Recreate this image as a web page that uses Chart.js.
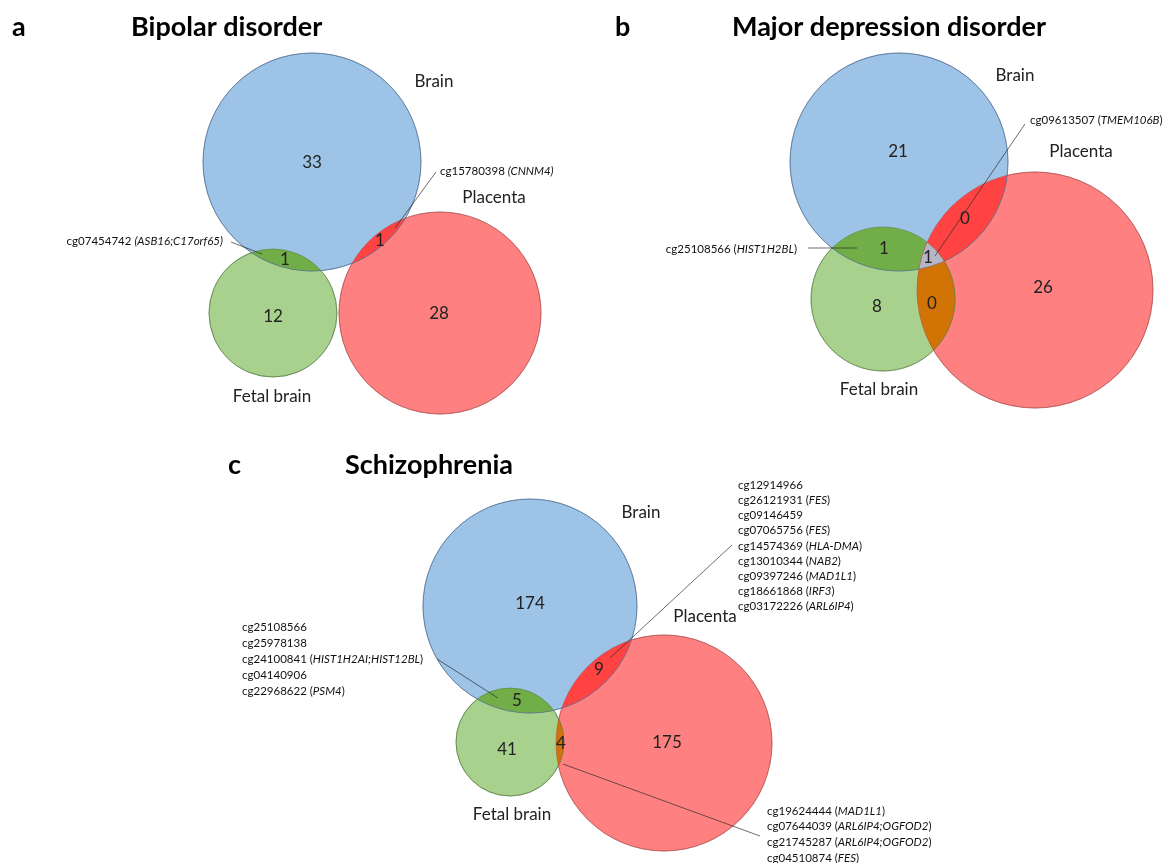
<!DOCTYPE html>
<html><head><meta charset="utf-8">
<script src="https://cdn.jsdelivr.net/npm/chart.js@4.4.1/dist/chart.umd.min.js"></script>
<style>html,body{margin:0;padding:0;background:#fff}#wrap{width:1166px;height:863px}</style>
</head><body><div id="wrap"><canvas id="c" width="1166" height="863"></canvas></div>
<script>
// ---------------- data ----------------
const panelLetters = ['a', 'b', 'c'];
const panelTitles = ['Bipolar disorder', 'Major depression disorder', 'Schizophrenia'];
const setNames = ['Brain', 'Fetal brain', 'Placenta'];
const regionNames = ['Brain only', 'Fetal brain only', 'Placenta only', 'Brain & Fetal brain', 'Brain & Placenta', 'Fetal brain & Placenta', 'All three'];
const bipolarCounts = [33, 12, 28, 1, 1, null, null];
const mddCounts = [21, 8, 26, 1, 0, 0, 1];
const schizophreniaCounts = [174, 41, 175, 5, 9, 4, null];
// shared CpGs (text between underscores is italic)
const bipolarBrainFetalCpGs = ['cg07454742 _(ASB16;C17orf65)_'];
const bipolarBrainPlacentaCpGs = ['cg15780398 _(CNNM4)_'];
const mddBrainFetalCpGs = ['cg25108566 (_HIST1H2BL_)'];
const mddAllThreeCpGs = ['cg09613507 (_TMEM106B_)'];
const sczBrainFetalCpGs = ['cg25108566', 'cg25978138', 'cg24100841 (_HIST1H2AI;HIST12BL_)', 'cg04140906', 'cg22968622 (_PSM4_)'];
const sczBrainPlacentaCpGs = ['cg12914966', 'cg26121931 (_FES_)', 'cg09146459', 'cg07065756 (_FES_)', 'cg14574369 (_HLA-DMA_)', 'cg13010344 (_NAB2_)', 'cg09397246 (_MAD1L1_)', 'cg18661868 (_IRF3_)', 'cg03172226 (_ARL6IP4_)'];
const sczFetalPlacentaCpGs = ['cg19624444 (_MAD1L1_)', 'cg07644039 (_ARL6IP4;OGFOD2_)', 'cg21745287 (_ARL6IP4;OGFOD2_)', 'cg04510874 (_FES_)'];

const panelCounts = [bipolarCounts, mddCounts, schizophreniaCounts];

// ---------------- layout (page pixel units) ----------------
const circleLayout = [
  [[312, 162, 109], [273, 313, 64], [440, 313, 101]],
  [[899, 162, 109], [883, 299, 72], [1035, 290, 118]],
  [[530, 606, 107], [510, 742, 54], [664, 743, 108]]
];
const countLayout = [
  [[312, 163], [273, 317], [439, 314], [285, 260], [380, 241], null, null],
  [[898, 152], [877, 307], [1043, 288], [884, 249], [965, 219], [932, 304], [928, 258]],
  [[530, 604], [507, 750], [667, 743], [517, 701], [599, 670], [561, 744], null]
];
const setLabelLayout = [
  [[434, 82], [272, 397], [494, 198]],
  [[1015, 76], [879, 390], [1081, 152]],
  [[641, 513], [512, 815], [705, 617]]
];
const letterLayout = [[12, 27], [615, 27], [228, 465]];
const titleLayout = [[131, 27], [732, 27], [345, 465]];
const annotations = [
  {lines: bipolarBrainFetalCpGs, x: 223, y: 241, align: 'right', lh: 16, from: [231, 242], to: [262, 254]},
  {lines: bipolarBrainPlacentaCpGs, x: 440, y: 171, align: 'left', lh: 16, from: [436, 172], to: [395, 228]},
  {lines: mddBrainFetalCpGs, x: 797, y: 249, align: 'right', lh: 16, from: [808, 248], to: [857, 248]},
  {lines: mddAllThreeCpGs, x: 1030, y: 120, align: 'left', lh: 16, from: [1025, 124], to: [935, 256]},
  {lines: sczBrainFetalCpGs, x: 242, y: 627, align: 'left', lh: 16, from: [437, 659], to: [498, 698]},
  {lines: sczBrainPlacentaCpGs, x: 738, y: 485, align: 'left', lh: 15.2, from: [732, 545], to: [610, 658]},
  {lines: sczFetalPlacentaCpGs, x: 767, y: 811, align: 'left', lh: 15.7, from: [563, 764], to: [760, 836]}
];

// ---------------- styles ----------------
const setFill = ['#9DC3E6', '#A9D18E', '#FF8080'];
const setStroke = ['rgba(70,100,140,0.5)', 'rgba(80,120,60,0.5)', 'rgba(170,70,70,0.5)'];
const pairDefs = [[0, 1, '#72AE48'], [0, 2, '#FF4343'], [1, 2, '#D27306']];
const tripleFill = '#B6B6C8';
const FONT = 'Lato, "Open Sans", sans-serif';

const datasets = setNames.map((name, s) => ({
  label: name,
  data: circleLayout.map(p => ({x: p[s][0], y: p[s][1], r: p[s][2]})),
  backgroundColor: setFill[s],
  borderColor: setStroke[s],
  borderWidth: 1,
  hoverRadius: 0,
  clip: false
}));

function richText(ctx, str, x, y, align, size) {
  const parts = str.split('_');
  const fonts = parts.map((t, i) => (i % 2 ? 'italic ' : '') + size + 'px ' + FONT);
  let total = 0;
  const widths = parts.map((t, i) => { ctx.font = fonts[i]; const w = ctx.measureText(t).width; total += w; return w; });
  let cx = align === 'right' ? x - total : x;
  ctx.textAlign = 'left';
  parts.forEach((t, i) => { ctx.font = fonts[i]; ctx.fillText(t, cx, y); cx += widths[i]; });
}

const vennPlugin = {
  id: 'venn',
  afterDatasetsDraw(chart) {
    const ctx = chart.ctx;
    const metas = setNames.map((n, s) => chart.getDatasetMeta(s));
    for (let p = 0; p < circleLayout.length; p++) {
      const C = metas.map(m => ({x: m.data[p].x, y: m.data[p].y, r: m.data[p].options.radius}));
      const clipTo = (idx) => { idx.forEach(i => { ctx.beginPath(); ctx.arc(C[i].x, C[i].y, C[i].r, 0, Math.PI * 2); ctx.clip(); }); };
      pairDefs.forEach(([a, b, col]) => {
        ctx.save(); clipTo([a, b]); ctx.fillStyle = col; ctx.fillRect(0, 0, chart.width, chart.height); ctx.restore();
      });
      ctx.save(); clipTo([0, 1, 2]); ctx.fillStyle = tripleFill; ctx.fillRect(0, 0, chart.width, chart.height); ctx.restore();
      C.forEach((c, s) => {
        ctx.save(); ctx.beginPath(); ctx.arc(c.x, c.y, c.r, 0, Math.PI * 2);
        ctx.strokeStyle = setStroke[s]; ctx.lineWidth = 1; ctx.stroke(); ctx.restore();
      });
    }
  },
  afterDraw(chart) {
    const ctx = chart.ctx;
    const xs = chart.scales.x, ys = chart.scales.y;
    const px = v => xs.getPixelForValue(v), py = v => ys.getPixelForValue(v);
    ctx.save();
    ctx.fillStyle = '#000';
    ctx.textBaseline = 'middle';
    for (let p = 0; p < 3; p++) {
      ctx.font = 'bold 27px ' + FONT; ctx.textAlign = 'left'; ctx.fillStyle = '#000';
      ctx.fillText(panelLetters[p], px(letterLayout[p][0]), py(letterLayout[p][1]));
      ctx.fillText(panelTitles[p], px(titleLayout[p][0]), py(titleLayout[p][1]));
      ctx.font = '17px ' + FONT; ctx.textAlign = 'center'; ctx.fillStyle = '#222';
      setNames.forEach((n, s) => ctx.fillText(n, px(setLabelLayout[p][s][0]), py(setLabelLayout[p][s][1])));
      panelCounts[p].forEach((v, k) => {
        if (v === null || !countLayout[p][k]) return;
        ctx.fillText(String(v), px(countLayout[p][k][0]), py(countLayout[p][k][1]));
      });
    }
    annotations.forEach(a => {
      ctx.strokeStyle = 'rgba(40,40,40,0.85)'; ctx.lineWidth = 0.8;
      ctx.beginPath(); ctx.moveTo(px(a.from[0]), py(a.from[1])); ctx.lineTo(px(a.to[0]), py(a.to[1])); ctx.stroke();
      ctx.fillStyle = '#111';
      a.lines.forEach((t, i) => richText(ctx, t, px(a.x), py(a.y + i * a.lh), a.align, 11.5));
    });
    ctx.restore();
  }
};

new Chart(document.getElementById('c'), {
  type: 'bubble',
  data: {datasets},
  options: {
    responsive: false,
    animation: false,
    events: [],
    layout: {padding: 0, autoPadding: false},
    plugins: {legend: {display: false}, tooltip: {enabled: false}, title: {display: false}},
    scales: {
      x: {type: 'linear', min: 0, max: 1166, display: false},
      y: {type: 'linear', min: 0, max: 863, reverse: true, display: false}
    }
  },
  plugins: [vennPlugin]
});
</script></body></html>
